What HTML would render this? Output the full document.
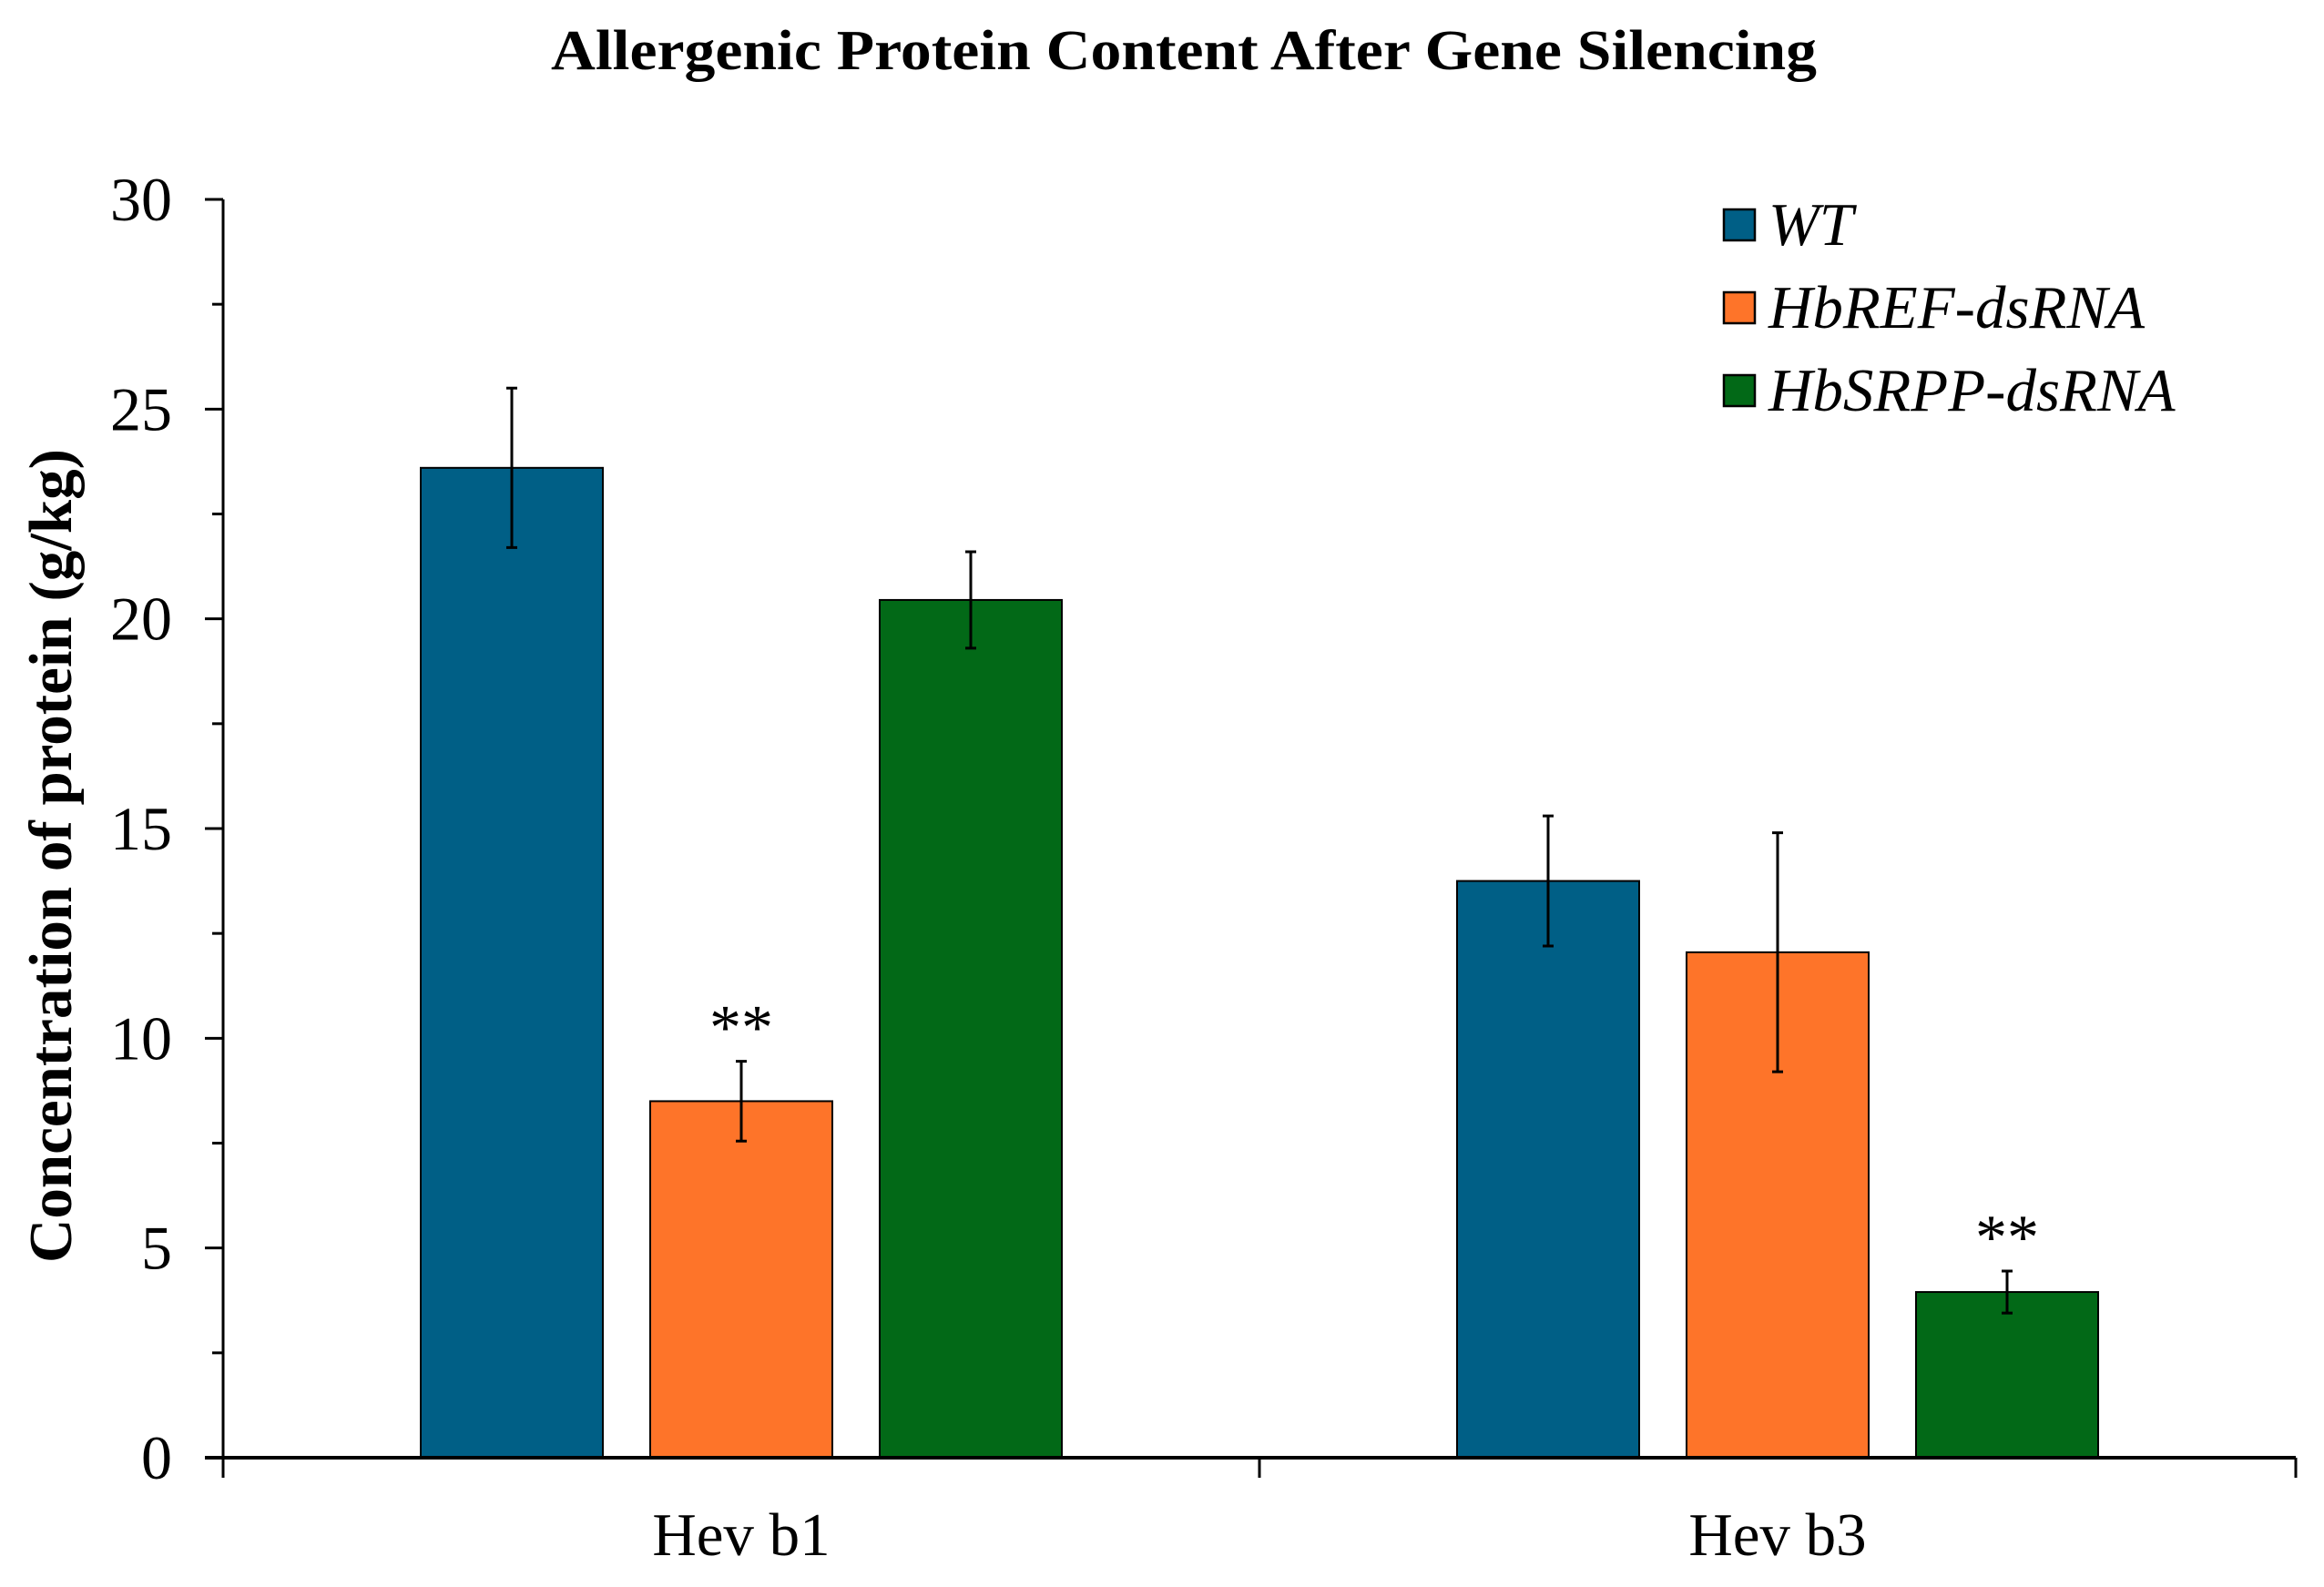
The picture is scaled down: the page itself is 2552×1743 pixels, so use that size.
<!DOCTYPE html>
<html><head><meta charset="utf-8"><style>
html,body{margin:0;padding:0;background:#fff;}
svg{display:block;font-family:"Liberation Serif",serif;}
</style></head><body>
<svg id="chart" width="2552" height="1743" viewBox="0 0 2552 1743" xmlns="http://www.w3.org/2000/svg">
<text x="1300" y="76" text-anchor="middle" font-size="62" font-weight="bold" textLength="1390" lengthAdjust="spacingAndGlyphs">Allergenic Protein Content After Gene Silencing</text>
<text transform="translate(78,940) rotate(-90)" text-anchor="middle" font-size="67" font-weight="bold">Concentration of protein (g/kg)</text>
<g id="plot"></g>
</svg>
<script>
const categories = ["Hev b1", "Hev b3"];
const seriesNames = ["WT", "HbREF-dsRNA", "HbSRPP-dsRNA"];
const wtValues = [23.6, 13.75];
const refValues = [8.5, 12.05];
const srppValues = [20.45, 3.95];
const wtErr = [1.9, 1.55];
const refErr = [0.95, 2.85];
const srppErr = [1.15, 0.5];
const significance = [["", "**", ""], ["", "", "**"]];
const yTicks = [0, 5, 10, 15, 20, 25, 30];

const colors = ["#005f86", "#fe7429", "#026917"];
const X0 = 245, X1 = 2521, Y0 = 1601, Ytop = 219, YMAX = 30;
function y(v){ return Y0 - (v / YMAX) * (Y0 - Ytop); }
const catW = (X1 - X0) / categories.length;
function xc(i){ return X0 + catW * (i + 0.5); }
const barW = 200, step = 252;

const NS = "http://www.w3.org/2000/svg";
const plot = document.getElementById("plot");
function mk(tag, attrs, parent){
  const e = document.createElementNS(NS, tag);
  for (const k in attrs) e.setAttribute(k, attrs[k]);
  (parent || plot).appendChild(e);
  return e;
}
const allVals = [wtValues, refValues, srppValues];
const allErr = [wtErr, refErr, srppErr];

for (let c = 0; c < categories.length; c++) {
  for (let s = 0; s < 3; s++) {
    const cx = xc(c) + (s - 1) * step;
    const v = allVals[s][c], e = allErr[s][c];
    const r = mk("rect", {x: cx - barW/2, y: y(v), width: barW, height: y(0) - y(v), fill: colors[s], stroke: "#000", "stroke-width": 2});
    
    
    const eb = mk("path", {d: `M${cx},${y(v+e)}V${y(v-e)}M${cx-6},${y(v+e)}H${cx+6}M${cx-6},${y(v-e)}H${cx+6}`, stroke: "#000", "stroke-width": 3, fill: "none"});
    
    
    if (significance[c][s]) {
      const t = mk("text", {x: cx, y: y(v + e) - 14, "text-anchor": "middle", "font-size": 70});
      t.textContent = significance[c][s];
      
      
    }
  }
  const cl = mk("text", {x: xc(c), y: 1708, "text-anchor": "middle", "font-size": 67});
  cl.textContent = categories[c];
  
  
}

const ya = mk("path", {d: `M${X0},${Ytop}V${Y0}`, stroke: "#000", "stroke-width": 3});


const xa = mk("path", {d: `M${X0-20},${Y0}H${X1}`, stroke: "#000", "stroke-width": 4});


for (let i = 0; i <= categories.length; i++) {
  const tx = X0 + catW * i;
  const tk = mk("path", {d: `M${tx},${Y0}V${Y0+22}`, stroke: "#000", "stroke-width": 3});
  
  
}
for (let i = 0; i < yTicks.length; i++) {
  const v = yTicks[i];
  const tk = mk("path", {d: `M${X0-20},${y(v)}H${X0}`, stroke: "#000", "stroke-width": 3});
  
  
  if (i < yTicks.length - 1) {
    const mt = mk("path", {d: `M${X0-12},${y(v + 2.5)}H${X0}`, stroke: "#000", "stroke-width": 3});
    
    
  }
  const tl = mk("text", {x: X0 - 56, y: y(v) + 23, "text-anchor": "end", "font-size": 68});
  tl.textContent = v;
  
  
}

for (let s = 0; s < 3; s++) {
  const ly = 247 + s * 91;
  const sq = mk("rect", {x: 1893, y: ly - 17, width: 34, height: 34, fill: colors[s], stroke: "#000", "stroke-width": 2.5});
  
  
  const lt = mk("text", {x: 1942, y: ly + 22, "font-size": 67, "font-style": "italic"});
  lt.textContent = seriesNames[s];
  
  
}
</script>
</body></html>
